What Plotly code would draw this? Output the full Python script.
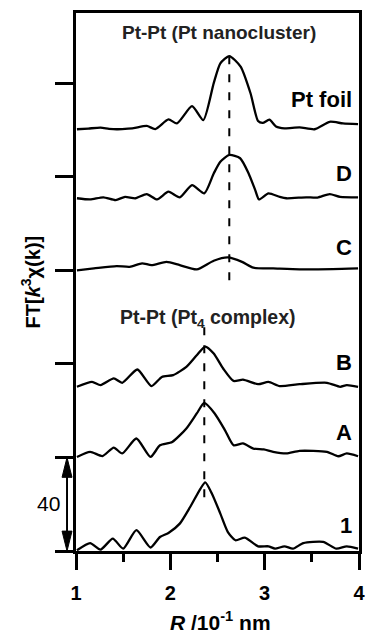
import plotly.graph_objects as go

# ---- data (R in 10^-1 nm, FT magnitude relative to each curve's baseline) ----
pt_foil_R = [1.01, 1.13, 1.26, 1.35, 1.43, 1.52, 1.61, 1.75, 1.84, 1.98, 2.07, 2.23, 2.35, 2.46, 2.53, 2.625, 2.745, 2.85, 2.93, 2.98, 3.05, 3.12, 3.21, 3.37, 3.53, 3.69, 3.83, 3.99]
pt_foil_y = [0.3, 0.6, 1.0, 0.5, 0.3, 0.5, 0.8, 1.7, 0.4, 4.5, 2.8, 10.2, 4.2, 20.0, 28.5, 31.6, 27.1, 15.7, 3.8, 3.0, 4.4, 1.5, 0.7, 1.1, 0.3, 3.5, 2.8, 2.5]

d_R = [1.01, 1.15, 1.29, 1.42, 1.52, 1.63, 1.75, 1.86, 1.98, 2.10, 2.23, 2.36, 2.46, 2.53, 2.625, 2.74, 2.83, 2.90, 2.94, 3.04, 3.16, 3.23, 3.44, 3.56, 3.69, 3.80, 3.99]
d_y = [0.8, 0.3, 1.2, 0.0, 1.4, 0.8, 2.6, 0.3, 3.6, 1.2, 6.4, 2.9, 11.4, 16.4, 19.3, 17.9, 11.4, 4.3, 0.3, 2.9, 1.4, 0.8, 1.2, 1.1, 2.6, 1.4, 1.2]

c_R = [1.01, 1.19, 1.43, 1.57, 1.70, 1.80, 1.96, 2.10, 2.28, 2.46, 2.61, 2.76, 2.88, 3.09, 3.37, 3.72, 3.99]
c_y = [0.0, 0.8, 1.8, 1.5, 3.0, 2.2, 3.6, 2.2, 0.4, 4.1, 5.5, 3.6, 1.1, 0.8, 0.4, 0.5, 0.8]

b_R = [1.01, 1.17, 1.26, 1.40, 1.49, 1.65, 1.80, 1.91, 2.03, 2.17, 2.28, 2.37, 2.46, 2.56, 2.67, 2.77, 2.93, 3.04, 3.16, 3.37, 3.66, 3.80, 3.87, 3.99]
b_y = [0.2, 2.3, 0.9, 3.8, 1.9, 7.6, 0.5, 4.4, 5.2, 8.7, 13.7, 17.4, 14.4, 8.0, 2.7, 3.3, 1.3, 2.3, 0.5, 1.3, 1.9, 0.2, 0.9, 0.2]

a_R = [1.01, 1.15, 1.28, 1.40, 1.49, 1.64, 1.79, 1.89, 2.02, 2.17, 2.28, 2.36, 2.47, 2.58, 2.67, 2.77, 2.88, 2.99, 3.09, 3.23, 3.37, 3.66, 3.78, 3.87, 3.99]
a_y = [0.2, 2.4, 0.6, 4.2, 1.7, 8.1, 0.2, 5.2, 6.6, 12.4, 18.8, 23.3, 18.8, 11.6, 5.2, 6.0, 3.8, 3.4, 2.4, 1.7, 2.8, 2.4, 0.5, 1.7, 0.5]

s1_R = [1.01, 1.15, 1.26, 1.39, 1.50, 1.64, 1.79, 1.89, 1.98, 2.10, 2.21, 2.32, 2.37, 2.44, 2.53, 2.61, 2.69, 2.79, 2.93, 3.04, 3.11, 3.21, 3.30, 3.41, 3.62, 3.76, 3.87, 3.99]
s1_y = [0.3, 3.4, 0.6, 5.3, 1.0, 8.9, 1.5, 6.0, 7.7, 11.7, 18.8, 26.7, 29.3, 24.6, 16.0, 8.1, 4.6, 5.7, 2.0, 2.0, 1.0, 2.0, 1.0, 3.4, 3.9, 1.0, 2.0, 1.0]

labels = ["Pt foil", "D", "C", "B", "A", "1"]
offsets = [180, 150, 120, 70, 40, 0]
label_y = [193, 161.6, 129.9, 80.7, 50.8, 11.0]

x_ticks = [1, 2, 3, 4]
x_minor = [1.5, 2.5, 3.5]
y_ticks = [0, 40, 80, 120, 160, 200]

cluster_R = 2.625   # Pt-Pt (Pt nanocluster)
cluster_span = [115.8, 214.6]
pt4_R = 2.36        # Pt-Pt (Pt4 complex)
pt4_span = [23.0, 95.8]
scale_bar = [0, 40]

FONT = "Liberation Sans, Arial, sans-serif"

series = [(pt_foil_R, pt_foil_y), (d_R, d_y), (c_R, c_y), (b_R, b_y), (a_R, a_y), (s1_R, s1_y)]

fig = go.Figure()
for (R, y), off in zip(series, offsets):
    fig.add_trace(go.Scatter(
        x=R, y=[v + off for v in y], mode="lines",
        line=dict(color="black", width=2.3, shape="spline", smoothing=0.6),
        showlegend=False, hoverinfo="skip"))

# dashed reference lines
for xr, span in [(cluster_R, cluster_span), (pt4_R, pt4_span)]:
    fig.add_shape(type="line", xref="x", yref="y", x0=xr, x1=xr, y0=span[0], y1=span[1],
                  line=dict(color="black", width=2, dash="8px,10px"))

# scale bar (double arrow) left of axis
bx = -0.0317
hw = 0.0176
hl = 8.5
fig.add_shape(type="line", xref="paper", yref="y", x0=bx, x1=bx,
              y0=scale_bar[0] + 2, y1=scale_bar[1] - 2, line=dict(color="black", width=2))
fig.add_shape(type="path", xref="paper", yref="y",
              path=f"M {bx-hw},{scale_bar[1]-hl} L {bx+hw},{scale_bar[1]-hl} L {bx},{scale_bar[1]} Z",
              fillcolor="black", line=dict(color="black", width=1))
fig.add_shape(type="path", xref="paper", yref="y",
              path=f"M {bx-hw},{scale_bar[0]+hl} L {bx+hw},{scale_bar[0]+hl} L {bx},{scale_bar[0]} Z",
              fillcolor="black", line=dict(color="black", width=1))

ann = []
for lab, ly in zip(labels, label_y):
    ann.append(dict(x=3.95, y=ly, xref="x", yref="y", text=f"<b>{lab}</b>", showarrow=False,
                    xanchor="right", yanchor="middle", font=dict(size=22, family=FONT, color="black")))
ann.append(dict(x=2.511, y=221.5, xref="x", yref="y", text="<b>Pt-Pt (Pt nanocluster)</b>",
                showarrow=False, xanchor="center", yanchor="middle",
                font=dict(size=19, family=FONT, color="#222")))
ann.append(dict(x=2.394, y=99.4, xref="x", yref="y", text="<b>Pt-Pt (Pt<sub>4</sub> complex)</b>",
                showarrow=False, xanchor="center", yanchor="middle",
                font=dict(size=19.5, family=FONT, color="#222")))
ann.append(dict(x=-0.098, y=20.3, xref="paper", yref="y", text=str(scale_bar[1]), showarrow=False,
                xanchor="center", yanchor="middle", font=dict(size=21, family=FONT, color="black")))
ann.append(dict(x=-0.161, y=0.5, xref="paper", yref="paper", textangle=-90,
                text="<b>FT[<i>k</i><sup>3</sup>χ(k)]</b>", showarrow=False,
                xanchor="center", yanchor="middle", font=dict(size=20, family=FONT, color="black")))
ann.append(dict(x=0.509, y=-0.131, xref="paper", yref="paper",
                text="<b><i>R</i> /10<sup>-1</sup> nm</b>", showarrow=False,
                xanchor="center", yanchor="middle", font=dict(size=21, family=FONT, color="black")))

fig.update_layout(
    width=365, height=634,
    margin=dict(l=76, r=6, t=13, b=83, autoexpand=False),
    paper_bgcolor="white", plot_bgcolor="white",
    annotations=ann,
    font=dict(family=FONT, color="black"),
    xaxis=dict(range=[1, 4], tickvals=x_ticks, ticks="outside", ticklen=16, tickwidth=2.5,
               tickcolor="black", showline=True, linewidth=2.5, linecolor="black", mirror=True,
               showgrid=False, zeroline=False, ticklabelstandoff=6, automargin=False,
               ticklabeloverflow="allow",
               tickfont=dict(size=20, family=FONT, weight="bold", color="black"),
               minor=dict(tickvals=x_minor, ticks="outside", ticklen=8, tickwidth=2.5, tickcolor="black",
                          showgrid=False)),
    yaxis=dict(range=[0, 230], tickvals=y_ticks, ticks="outside", ticklen=18, tickwidth=2.5,
               tickcolor="black", showticklabels=False, showline=True, linewidth=2.5,
               linecolor="black", mirror=True, showgrid=False, zeroline=False, automargin=False),
)

fig.write_html("out.html", config={"displayModeBar": False},
               post_script="document.body.style.margin='0px';document.body.style.overflow='hidden';")
